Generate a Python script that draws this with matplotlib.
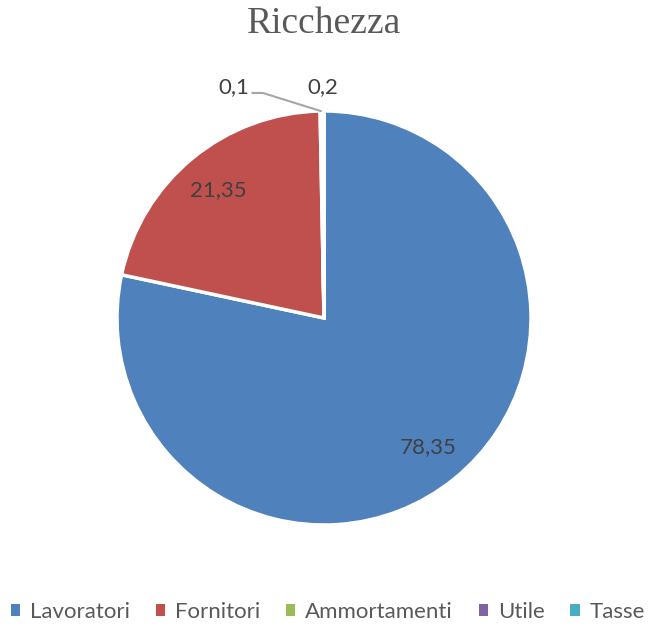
import numpy as np
import matplotlib
matplotlib.use("Agg")
import matplotlib.pyplot as plt

# data
categories = ["Lavoratori", "Fornitori", "Ammortamenti", "Utile", "Tasse"]
values = [78.35, 21.35, 0.1, 0.2, 0.0]
colors = ["#4F81BD", "#C0504D", "#9BBB59", "#8064A2", "#4BACC6"]

W, H = 648, 628
fig = plt.figure(figsize=(W / 100, H / 100), dpi=100)

# pie centre / radius in pixels
cx, cy, R = 324, 318, 207
ax = fig.add_axes([(cx - R) / W, (H - cy - R) / H, 2 * R / W, 2 * R / H])

wedges, _ = ax.pie(values, startangle=90, counterclock=False, colors=colors,
                   radius=1.0, labels=None,
                   wedgeprops=dict(edgecolor="white", linewidth=2.5))
ax.set_xlim(-1, 1)
ax.set_ylim(-1, 1)
ax.set_aspect("equal")
ax.axis("off")

def fmt(v):
    return ("%g" % v).replace(".", ",")

lab = dict(fontsize=16, family="Lato", color="#404040")

# large labels inside the wedges
for w, v in zip(wedges[:2], values[:2]):
    mid = np.deg2rad((w.theta1 + w.theta2) / 2)
    ax.text(0.8 * np.cos(mid), 0.8 * np.sin(mid), fmt(v), ha="center", va="center", **lab)

# small labels above the pie
w_am = wedges[2]
mid = np.deg2rad((w_am.theta1 + w_am.theta2) / 2)
ax.plot([-0.345, -0.295, np.cos(mid)], [1.087, 1.087, np.sin(mid)],
        color="#A6A6A6", lw=1.5, clip_on=False)
ax.text(-0.36, 1.115, fmt(values[2]), ha="right", va="center", **lab)
ax.text(-0.005, 1.115, fmt(values[3]), ha="center", va="center", **lab)

fig.text(cx / W, 1 - 24 / H, "Ricchezza", ha="center", va="center",
         fontsize=27, family="Liberation Serif", color="#595959")

leg = fig.legend(wedges, categories, loc="center", bbox_to_anchor=(0.506, 1 - 612 / H),
                 ncol=5, frameon=False, handlelength=0.42, handleheight=0.42,
                 handletextpad=0.45, columnspacing=1.15,
                 prop=dict(family="Lato", size=16))
for t in leg.get_texts():
    t.set_color("#595959")
for h in leg.legend_handles:
    h.set_edgecolor("none")

fig.savefig("out.png", dpi=100)
